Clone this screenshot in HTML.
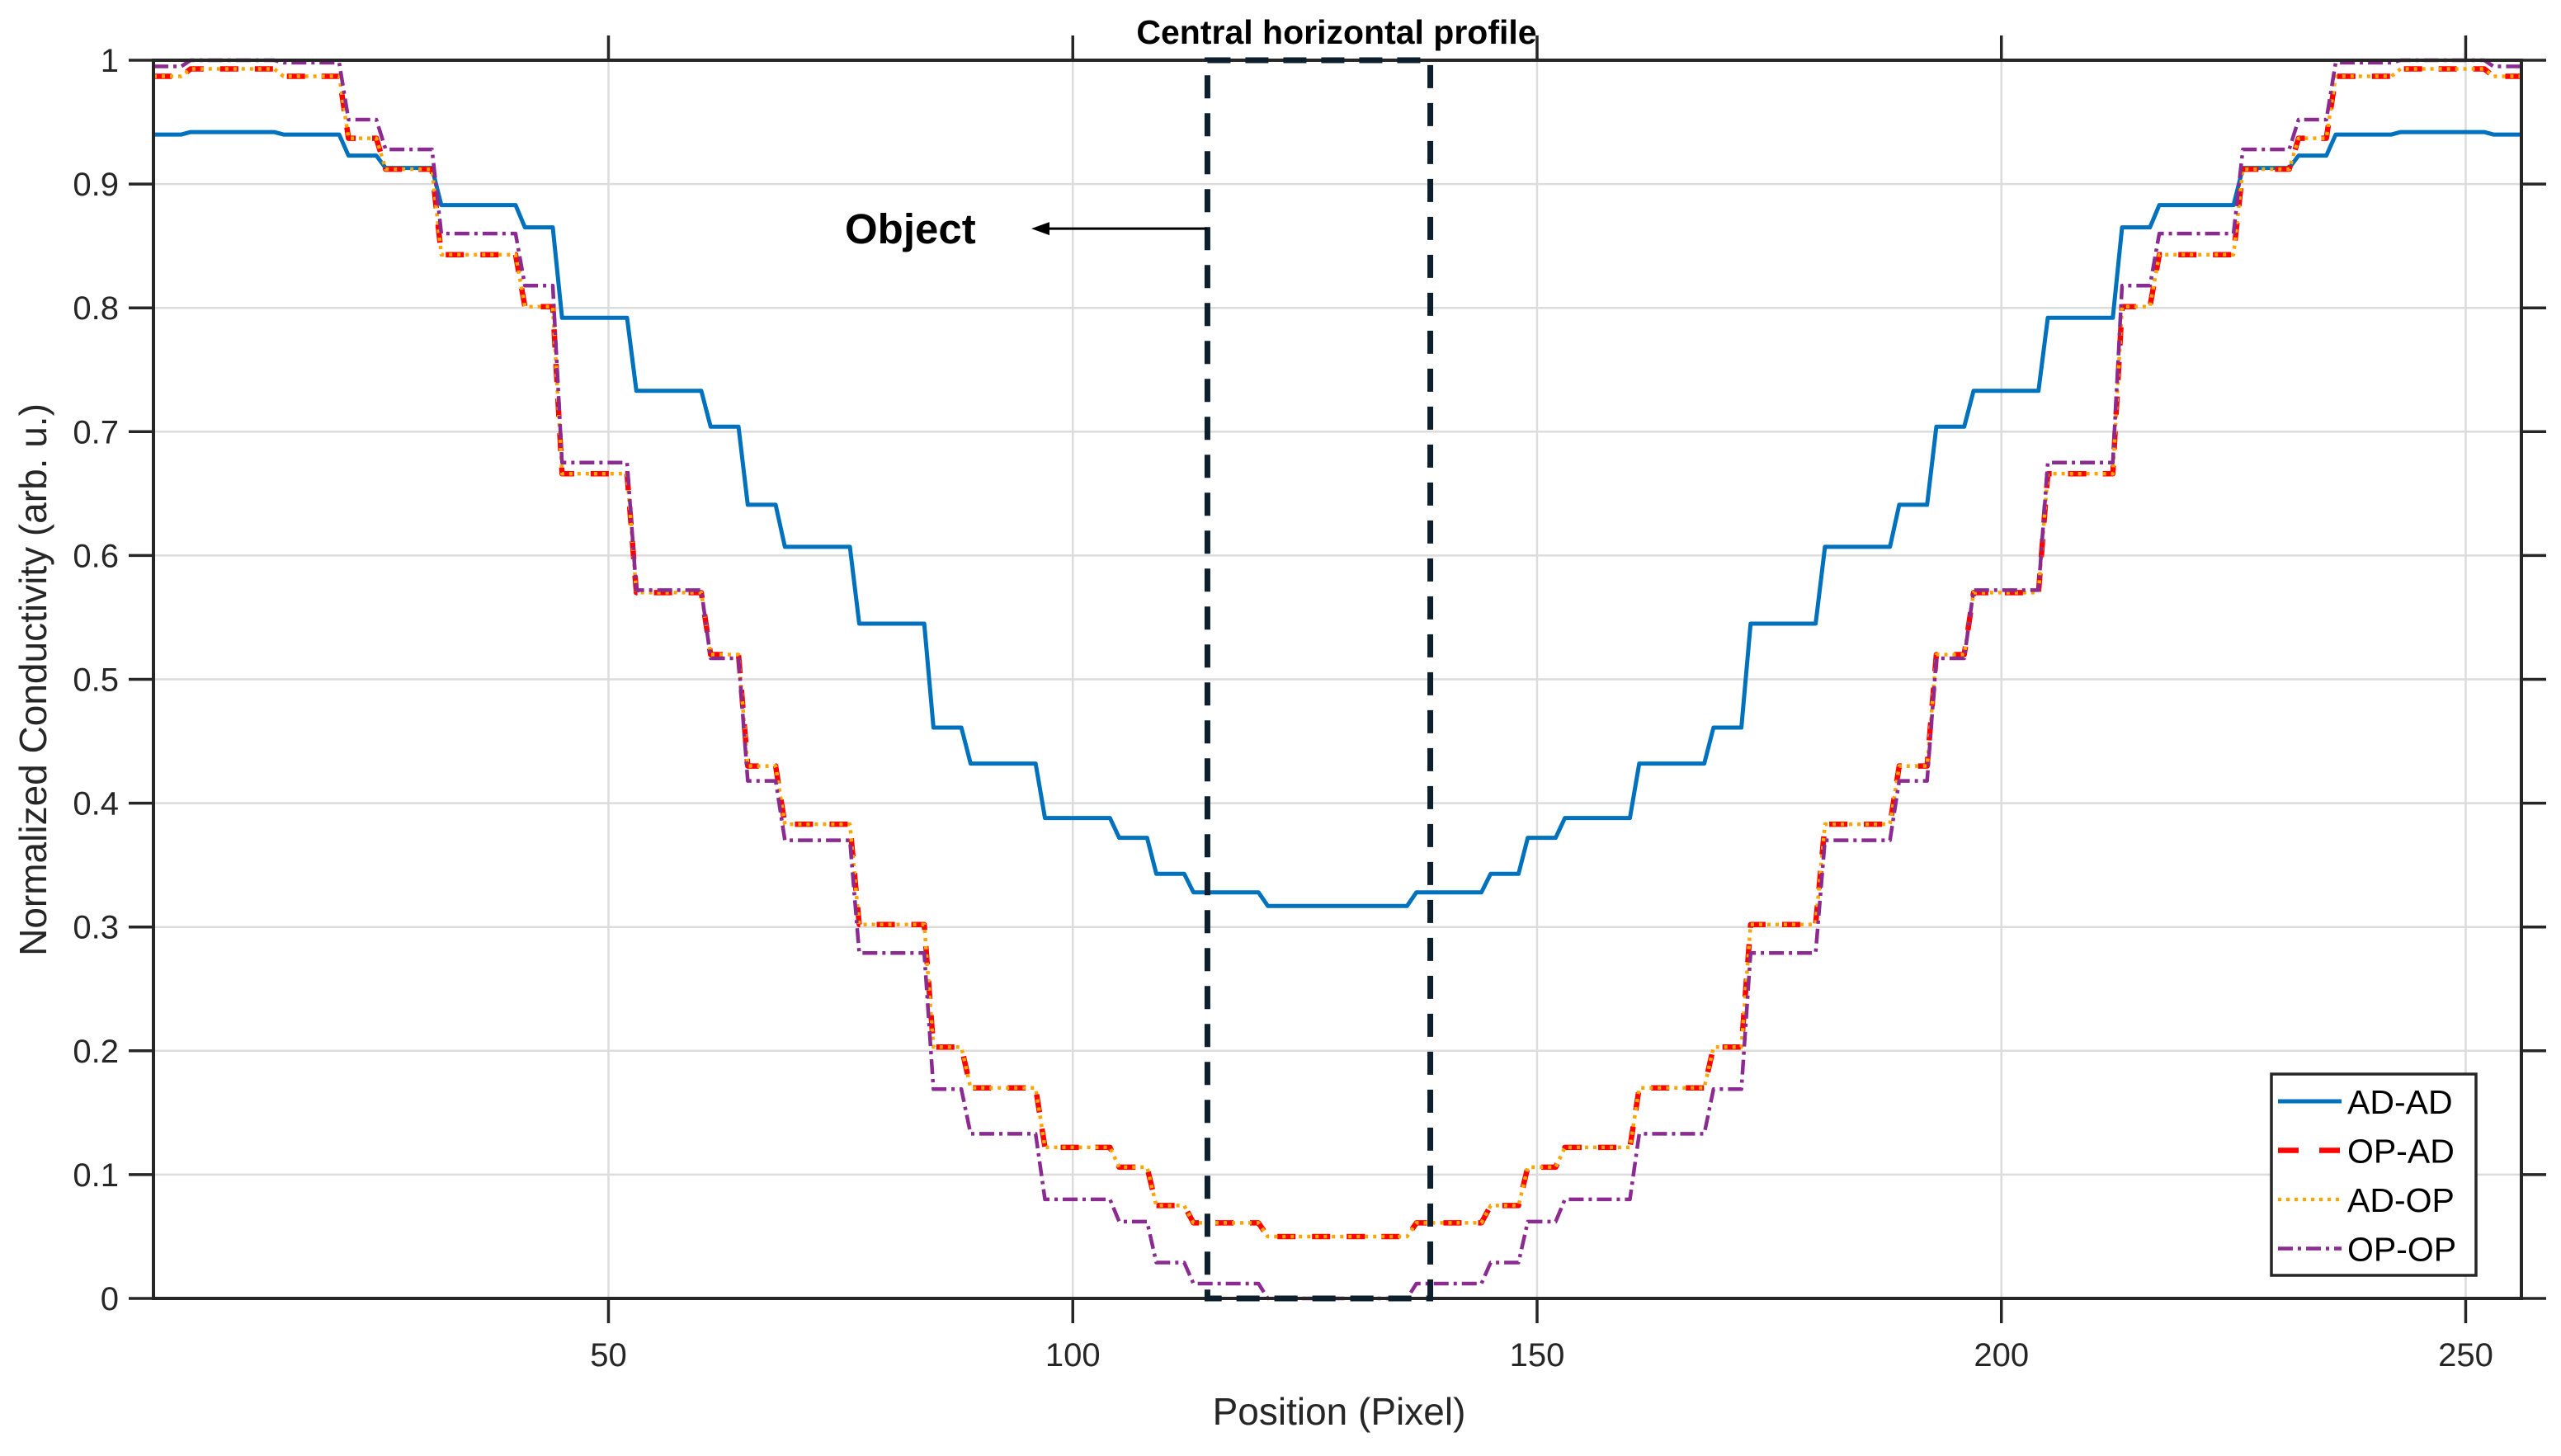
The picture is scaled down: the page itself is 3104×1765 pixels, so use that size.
<!DOCTYPE html>
<html><head><meta charset="utf-8"><style>
html,body{margin:0;padding:0;background:#fff;}
svg text{font-family:"Liberation Sans",Arial,sans-serif;}
</style></head><body>
<svg id="chart" width="3104" height="1760" viewBox="0 0 3104 1760" xmlns="http://www.w3.org/2000/svg">
<rect x="0" y="0" width="3104" height="1760" fill="#fff"/>
<g id="grid"></g>
<g id="series"></g>
<g id="axes"></g>
<text x="1620" y="53" text-anchor="middle" font-size="41" font-weight="bold">Central horizontal profile</text>
<text x="1623" y="1727" text-anchor="middle" font-size="46" fill="#262626">Position (Pixel)</text>
<text transform="translate(56,824) rotate(-90)" text-anchor="middle" font-size="46" fill="#262626">Normalized Conductivity (arb. u.)</text>
<g id="annot"></g>
<g id="legend"></g>
</svg>
<script>
const xTicks = [50, 100, 150, 200, 250];
const yTicks = [0, 0.1, 0.2, 0.3, 0.4, 0.5, 0.6, 0.7, 0.8, 0.9, 1];
const yTickLabels = ["0","0.1","0.2","0.3","0.4","0.5","0.6","0.7","0.8","0.9","1"];
const runStarts = [1,5,15,22,26,32,41,45,53,61,65,69,77,85,89,97,105,109,113,121,137,145,149,153,161,169,173,181,189,193,197,205,213,217,226,232,236,243,253];
const adAd = [0.940,0.942,0.940,0.923,0.913,0.883,0.865,0.792,0.733,0.704,0.641,0.607,0.545,0.461,0.432,0.388,0.372,0.343,0.328,0.317,0.328,0.343,0.372,0.388,0.432,0.461,0.545,0.607,0.641,0.704,0.733,0.792,0.865,0.883,0.913,0.923,0.940,0.942,0.940];
const opAd = [0.987,0.993,0.987,0.937,0.912,0.843,0.801,0.666,0.570,0.520,0.430,0.383,0.302,0.203,0.170,0.122,0.106,0.075,0.061,0.050,0.061,0.075,0.106,0.122,0.170,0.203,0.302,0.383,0.430,0.520,0.570,0.666,0.801,0.843,0.912,0.937,0.987,0.993,0.987];
const adOp = [0.987,0.993,0.987,0.937,0.912,0.843,0.801,0.666,0.570,0.520,0.430,0.383,0.302,0.203,0.170,0.122,0.106,0.075,0.061,0.050,0.061,0.075,0.106,0.122,0.170,0.203,0.302,0.383,0.430,0.520,0.570,0.666,0.801,0.843,0.912,0.937,0.987,0.993,0.987];
const opOp = [0.995,1.000,0.998,0.952,0.928,0.860,0.818,0.675,0.572,0.517,0.418,0.370,0.279,0.169,0.133,0.080,0.062,0.029,0.012,0.000,0.012,0.029,0.062,0.080,0.133,0.169,0.279,0.370,0.418,0.517,0.572,0.675,0.818,0.860,0.928,0.952,0.998,1.000,0.995];
const seriesNames = ["AD-AD","OP-AD","AD-OP","OP-OP"];
const objectRange = [114.5, 138.5];
const xDomain = [1, 256];
const yDomain = [0, 1];

const NS = "http://www.w3.org/2000/svg";
const L = 186, R = 3056, T = 73, B = 1574;
function xs(v){ return L + (v - xDomain[0]) / (xDomain[1] - xDomain[0]) * (R - L); }
function ys(v){ return B - (v - yDomain[0]) / (yDomain[1] - yDomain[0]) * (B - T); }
function mk(tag, attrs, parent){ const e = document.createElementNS(NS, tag); for (const k in attrs) e.setAttribute(k, attrs[k]); parent.appendChild(e); return e; }

const grid = document.getElementById('grid');
const axes = document.getElementById('axes');
xTicks.forEach(t => {
  const g = mk('line', {x1: xs(t), x2: xs(t), y1: T, y2: B, stroke: '#dcdcdc', 'stroke-width': 2.5}, grid);
  
  
});
yTicks.forEach(t => {
  const g = mk('line', {x1: L, x2: R, y1: ys(t), y2: ys(t), stroke: '#dcdcdc', 'stroke-width': 2.5}, grid);
  
  
});

function expand(vals){
  const pts = [];
  for (let p = xDomain[0]; p <= xDomain[1]; p++){
    let idx = 0;
    for (let i = 0; i < runStarts.length; i++) if (runStarts[i] <= p) idx = i;
    pts.push(xs(p).toFixed(1) + ',' + ys(vals[idx]).toFixed(1));
  }
  return pts.join(' ');
}
const styles = [
  {data: adAd, stroke: '#0072BD', w: 5, dash: ''},
  {data: opAd, stroke: '#FF0000', w: 6.5, dash: '22 20'},
  {data: adOp, stroke: '#FFA500', w: 4.5, dash: '4 6'},
  {data: opOp, stroke: '#8B2A90', w: 4.5, dash: '18 6 4 6'}
];
const sg = document.getElementById('series');
styles.forEach((s, i) => {
  const pl = mk('polyline', {points: expand(s.data), fill: 'none', stroke: s.stroke, 'stroke-width': s.w, 'stroke-dasharray': s.dash, 'stroke-linejoin': 'round'}, sg);
  
  
});

const box = mk('rect', {x: L, y: T, width: R - L, height: B - T, fill: 'none', stroke: '#262626', 'stroke-width': 4}, axes);


xTicks.forEach(t => {
  const a = mk('line', {x1: xs(t), x2: xs(t), y1: B, y2: B + 30, stroke: '#262626', 'stroke-width': 3.5}, axes);
  
  
  const b = mk('line', {x1: xs(t), x2: xs(t), y1: T, y2: T - 30, stroke: '#262626', 'stroke-width': 3.5}, axes);
  
  
  const tx = mk('text', {x: xs(t), y: B + 82, 'text-anchor': 'middle', 'font-size': 40, fill: '#262626'}, axes);
  tx.textContent = t;
  
  
});
yTicks.forEach((t, i) => {
  const a = mk('line', {x1: L - 30, x2: L, y1: ys(t), y2: ys(t), stroke: '#262626', 'stroke-width': 3.5}, axes);
  
  
  const b = mk('line', {x1: R, x2: R + 30, y1: ys(t), y2: ys(t), stroke: '#262626', 'stroke-width': 3.5}, axes);
  
  
  const tx = mk('text', {x: L - 42, y: ys(t) + 14, 'text-anchor': 'end', 'font-size': 40, fill: '#262626'}, axes);
  tx.textContent = yTickLabels[i];
  
  
});

const an = document.getElementById('annot');
const ob = mk('rect', {x: xs(objectRange[0]), y: ys(1), width: xs(objectRange[1]) - xs(objectRange[0]), height: ys(0) - ys(1), fill: 'none', stroke: '#0d1f2d', 'stroke-width': 7, 'stroke-dasharray': '28 18'}, an);


const ay = ys(0.864);
const al = mk('line', {x1: xs(objectRange[0]), x2: 1262, y1: ay, y2: ay, stroke: '#000', 'stroke-width': 3}, an);


const ah = mk('polygon', {points: `1250,${ay} 1272,${ay-8} 1272,${ay+8}`, fill: '#000'}, an);


const ot = mk('text', {x: 1024, y: ay + 18, 'font-size': 51, 'font-weight': 'bold'}, an);
ot.textContent = 'Object';



const lg = document.getElementById('legend');
const lb = mk('rect', {x: 2753, y: 1302, width: 248, height: 244, fill: '#fff', stroke: '#262626', 'stroke-width': 3.5}, lg);


styles.forEach((s, i) => {
  const y = 1335 + i * 59.5;
  const ln = mk('line', {x1: 2761, x2: 2838, y1: y, y2: y, stroke: s.stroke, 'stroke-width': s.w, 'stroke-dasharray': i === 1 ? '25 25' : s.dash}, lg);
  
  
  const tx = mk('text', {x: 2845, y: y + 15, 'font-size': 41, fill: '#000'}, lg);
  tx.textContent = seriesNames[i];
  
  
});
</script>
</body></html>
